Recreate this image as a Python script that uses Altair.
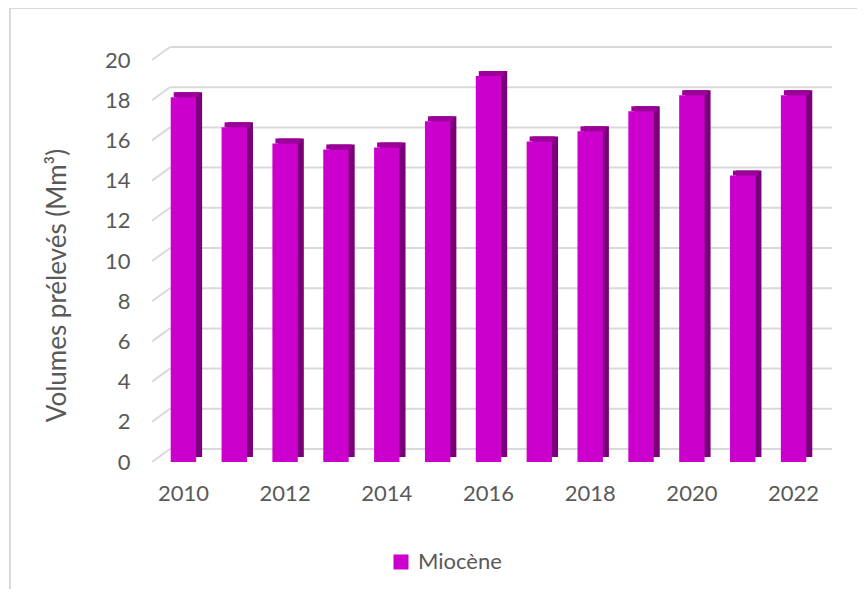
import altair as alt
import pandas as pd

years = ["2010", "2011", "2012", "2013", "2014", "2015", "2016",
         "2017", "2018", "2019", "2020", "2021", "2022"]
volumes = [18.15, 16.65, 15.85, 15.55, 15.65, 16.95, 19.2, 15.95, 16.45, 17.45, 18.25, 14.25, 18.25]
series_name = "Miocène"
y_ticks = [0, 2, 4, 6, 8, 10, 12, 14, 16, 18, 20]

df = pd.DataFrame({"year": years, "volume": volumes, "serie": [series_name] * len(years)})
ticks = pd.DataFrame({"t": y_ticks})

FONT = "Lato"
TXT = "#595959"
GRID = "#d9d9d9"
W, H = 661, 402

yscale = alt.Scale(domain=[0, 20], nice=False, zero=True)
xscale = alt.Scale(paddingInner=0.5, paddingOuter=0.25)

x_axis = alt.Axis(labelExpr="toNumber(datum.value) % 2 == 0 ? datum.label : ''",
                  labelAngle=0, domain=False, ticks=False, labelPadding=21,
                  labelFont=FONT, labelFontSize=22, labelColor=TXT)
y_axis = alt.Axis(values=y_ticks, grid=False, domain=False, ticks=False,
                  labelPadding=28, labelFont=FONT, labelFontSize=22, labelColor=TXT,
                  titleFont=FONT, titleFontSize=26, titleColor=TXT, titleFontWeight="normal",
                  titleX=-101, titleY=225, titleAngle=270, titleAlign="center",
                  titleBaseline="middle")
Y_TITLE = "Volumes prélevés (Mm³)"

front = alt.Chart(df).mark_bar().encode(
    x=alt.X("year:O", scale=xscale, title=None, axis=x_axis),
    y=alt.Y("volume:Q", scale=yscale, title=Y_TITLE, axis=y_axis),
    color=alt.Color("serie:N", scale=alt.Scale(domain=[series_name], range=["#cc00cc"]),
                    legend=alt.Legend(title=None, orient="none", legendX=232, legendY=491,
                                      symbolType="square", symbolSize=225, symbolStrokeWidth=0,
                                      labelFont=FONT, labelFontSize=22, labelColor=TXT,
                                      labelOffset=6, padding=0)),
)

side = alt.Chart(df).mark_bar(color="#7a007a", xOffset=6, yOffset=-5).encode(
    x=alt.X("year:O", scale=xscale, title=None, axis=x_axis),
    y=alt.Y("volume:Q", scale=yscale, title=Y_TITLE, axis=y_axis),
)

top = alt.Chart(df).mark_bar(color="#9b009b", xOffset=3, yOffset=-5, y2Offset=0).encode(
    x=alt.X("year:O", scale=xscale, title=None, axis=x_axis),
    y=alt.Y("volume:Q", scale=yscale, title=Y_TITLE, axis=y_axis),
    y2="volume:Q",
)

border = alt.Chart(pd.DataFrame({"a": [0]})).mark_rect(
    fill=None, stroke=GRID, strokeWidth=2
).encode(
    x=alt.value(-148), x2=alt.value(730), y=alt.value(-52), y2=alt.value(545)
)

back_grid = alt.Chart(ticks).mark_rule(color=GRID, strokeWidth=2, yOffset=-13).encode(
    y=alt.Y("t:Q", scale=yscale, title=Y_TITLE, axis=y_axis),
    x=alt.value(12), x2=alt.value(674)
)

diag = alt.Chart(ticks).mark_rule(color=GRID, strokeWidth=2, y2Offset=-13).encode(
    y=alt.Y("t:Q", scale=yscale, title=Y_TITLE, axis=y_axis),
    y2="t:Q",
    x=alt.value(-6), x2=alt.value(12)
)

chart = alt.layer(border, back_grid, diag, side, top, front).properties(
    width=W, height=H,
    background="white",
    autosize=alt.AutoSizeParams(type="none"),
    padding={"left": 150, "top": 52, "right": 38, "bottom": 127},
).configure_view(stroke=None)

chart.save("out.html", embed_options={"renderer": "svg", "actions": False})
